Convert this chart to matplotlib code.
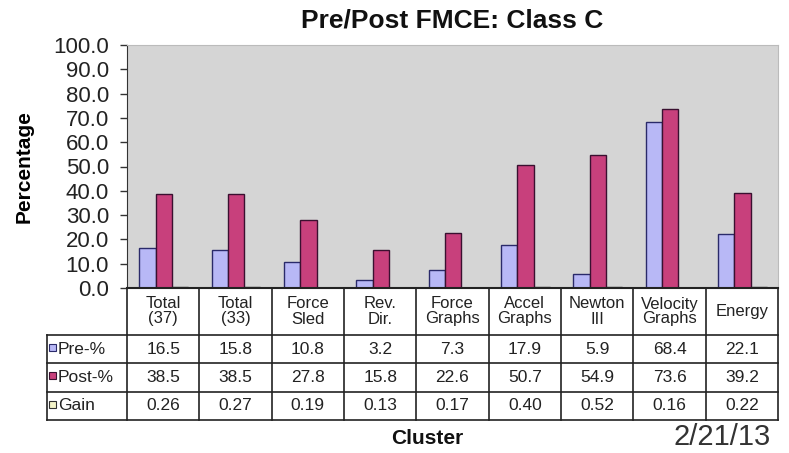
import matplotlib
matplotlib.use("Agg")
import matplotlib.pyplot as plt
from matplotlib.patches import Rectangle
import numpy as np

plt.rcParams['font.family'] = ['Liberation Sans', 'DejaVu Sans']

categories = ["Total\n(37)", "Total\n(33)", "Force\nSled", "Rev.\nDir.", "Force\nGraphs",
              "Accel\nGraphs", "Newton\nIII", "Velocity\nGraphs", "Energy"]
series_names = ["Pre-%", "Post-%", "Gain"]
pre = [16.5, 15.8, 10.8, 3.2, 7.3, 17.9, 5.9, 68.4, 22.1]
post = [38.5, 38.5, 27.8, 15.8, 22.6, 50.7, 54.9, 73.6, 39.2]
gain = [0.26, 0.27, 0.19, 0.13, 0.17, 0.40, 0.52, 0.16, 0.22]
pre_labels = ["16.5", "15.8", "10.8", "3.2", "7.3", "17.9", "5.9", "68.4", "22.1"]
post_labels = ["38.5", "38.5", "27.8", "15.8", "22.6", "50.7", "54.9", "73.6", "39.2"]
gain_labels = ["0.26", "0.27", "0.19", "0.13", "0.17", "0.40", "0.52", "0.16", "0.22"]
yticks = np.arange(0, 101, 10)

colors = ["#b8b8f6", "#c8407c", "#f4f4c8"]
edges = ["#2a2a6a", "#3a1030", "#303030"]

W, H = 789, 453
fig = plt.figure(figsize=(W / 100, H / 100), dpi=100)

def fx(px):
    return px / W

def fy(py):
    return 1 - py / H

left, right, top, bottom = 127, 778, 45, 288
ax = fig.add_axes([fx(left), fy(bottom), fx(right) - fx(left), fy(top) - fy(bottom)])
ax.set_facecolor("#d5d5d5")
n = len(categories)
x = np.arange(n)
bw = 0.225
off0 = 0.17
for i, (vals, c, e) in enumerate(zip([pre, post, gain], colors, edges)):
    ax.bar(x + off0 + i * bw, vals, width=bw, align='edge', color=c, edgecolor=e, linewidth=1.0)
ax.set_xlim(0, n)
ax.set_ylim(0, 100)
ax.set_yticks(yticks)
ax.set_yticklabels([f"{v:.1f}" for v in yticks], fontsize=16, color="#222222")
ax.tick_params(axis='y', length=5, width=1, direction='out', pad=8, color="#333333")
ax.set_xticks([])
for s in ['top', 'right']:
    ax.spines[s].set_color("#bbbbbb")
ax.spines['left'].set_color("#333333")
ax.spines['bottom'].set_color("#222222")
ax.spines['bottom'].set_linewidth(1.5)
ax.set_ylabel("Percentage", fontsize=15, fontweight='bold')
ax.yaxis.set_label_coords(-0.143, 0.5)

fig.text(fx(452), fy(21), "Pre/Post FMCE: Class C", fontsize=19, fontweight='bold',
         ha='center', va='center', color="#111111")

# table
tab_bottom = 420
tax = fig.add_axes([fx(left), fy(tab_bottom), fx(right) - fx(left), fy(bottom) - fy(tab_bottom)])
tax.set_xlim(0, n)
row_edges_px = [288, 335, 363, 392, 420]
to_y = lambda p: (tab_bottom - p)
tax.set_ylim(0, tab_bottom - bottom)
tax.axis('off')
lab_left = -(left - 47) / ((right - left) / n)
lc = "#222222"
tax.plot([0, n], [to_y(288)] * 2, color=lc, lw=1.2, clip_on=False)
for p in row_edges_px[1:]:
    tax.plot([lab_left, n], [to_y(p)] * 2, color=lc, lw=1.2, clip_on=False)
for k in range(n + 1):
    tax.plot([k, k], [to_y(420), to_y(288)], color=lc, lw=1.2, clip_on=False)
tax.plot([lab_left, lab_left], [to_y(420), to_y(335)], color=lc, lw=1.2, clip_on=False)

for k, cat in enumerate(categories):
    tax.text(k + 0.5, to_y(311.5), cat, ha='center', va='center', fontsize=12,
             color="#222222", linespacing=1.0)
rows = [pre_labels, post_labels, gain_labels]
for r, (labels, name, c, e) in enumerate(zip(rows, series_names, colors, edges)):
    yc = to_y((row_edges_px[r + 1] + row_edges_px[r + 2]) / 2)
    for k, t in enumerate(labels):
        tax.text(k + 0.5, yc, t, ha='center', va='center', fontsize=12.5, color="#222222")
    sq = 7 / ((right - left) / n)
    tax.add_patch(Rectangle((lab_left + 0.03, yc - 1.5), sq, 7, facecolor=c,
                            edgecolor=e, lw=0.8, clip_on=False))
    tax.text(lab_left + 0.15, yc, name, ha='left', va='center', fontsize=12.5, color="#222222")

fig.text(fx(427), fy(438), "Cluster", fontsize=15, fontweight='bold', ha='center', va='center',
         color="#111111")
fig.text(fx(722), fy(437), "2/21/13", fontsize=21, ha='center', va='center', color="#333333")

fig.savefig("out.png", dpi=100)
